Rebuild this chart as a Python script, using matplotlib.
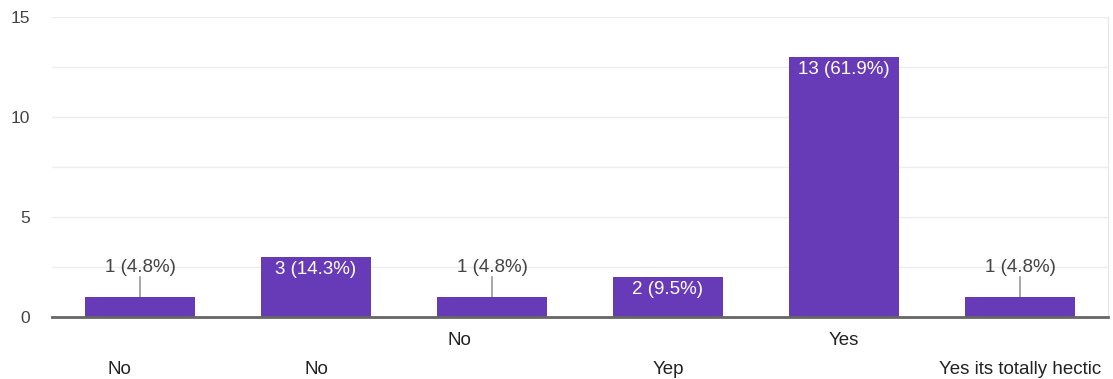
import matplotlib.pyplot as plt
import numpy as np

plt.rcParams['font.family'] = ['Liberation Sans', 'DejaVu Sans']

# survey answers and counts
answers = ["No", "No", "No", "Yep", "Yes", "Yes its totally hectic"]
counts = [1, 3, 1, 2, 13, 1]
percents = [4.8, 14.3, 4.8, 9.5, 61.9, 4.8]

purple = '#673ab7'
grey_txt = '#444444'

fig = plt.figure(figsize=(11.13, 3.79), dpi=100)
ax = fig.add_axes([0.0467, 0.1636, 0.9488, 0.7914])

x = np.arange(len(counts))
ax.bar(x, counts, width=0.62, color=purple, zorder=3)

ax.set_xlim(-0.5, len(counts) - 0.5)
ax.set_ylim(0, 15)
ax.set_yticks([0, 5, 10, 15])
ax.set_yticks([2.5, 7.5, 12.5], minor=True)
ax.grid(axis='y', which='both', color='#ececec', lw=1, zorder=0)
ax.tick_params(axis='y', which='both', length=0, labelsize=12.5, labelcolor=grey_txt, pad=16)
ax.set_xticks([])

for s in ['top', 'left']:
    ax.spines[s].set_visible(False)
ax.spines['right'].set_color('#e6e6e6')
ax.spines['bottom'].set_color('#666666')
ax.spines['bottom'].set_linewidth(2)
ax.spines['bottom'].set_zorder(4)

# value labels: inside the bar when it is tall enough, else above with a leader line
for i, (c, p) in enumerate(zip(counts, percents)):
    lab = f"{c} ({p}%)"
    if c >= 2:
        ax.text(i, c - 0.22, lab, ha='center', va='top', color='white', fontsize=13.5, zorder=5)
    else:
        ax.plot([i, i], [c, c + 1.0], color='#999999', lw=1.2, zorder=2)
        ax.text(i, c + 1.05, lab, ha='center', va='bottom', color=grey_txt, fontsize=13.5, zorder=5)

# category labels, staggered over two rows
rows = [1, 1, 0, 1, 0, 1]
shifts = [-21, 0, -33, 0, 0, 0]
for i, name in enumerate(answers):
    ax.annotate(name, xy=(i, 0), xycoords='data',
                xytext=(shifts[i] * 0.72, -17 - rows[i] * 20.5), textcoords='offset points',
                ha='center', va='center', color='#222222', fontsize=13.5,
                annotation_clip=False)

fig.savefig('out.png', dpi=100)
